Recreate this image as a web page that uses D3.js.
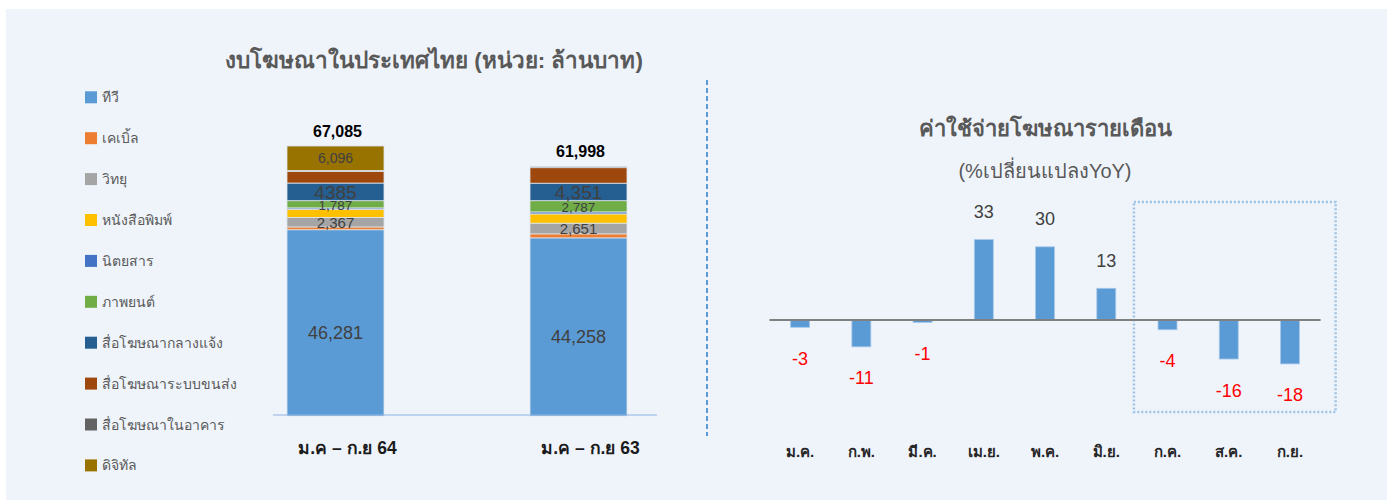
<!DOCTYPE html>
<html lang="th">
<head>
<meta charset="UTF-8">
<title>งบโฆษณาในประเทศไทย</title>
<script src="https://d3js.org/d3.v7.min.js"></script>
<style>
  body { margin: 0; background: #fff; overflow: hidden; }
  svg { display: block; font-family: "Liberation Sans", Arial, "Noto Sans", sans-serif; }
</style>
</head>
<body>
<script>
// ---- data: left chart (million baht) ----
const periods = ["ม.ค – ก.ย 64", "ม.ค – ก.ย 63"];
const media = ["ทีวี", "เคเบิ้ล", "วิทยุ", "หนังสือพิมพ์", "นิตยสาร", "ภาพยนต์",
               "สื่อโฆษณากลางแจ้ง", "สื่อโฆษณาระบบขนส่ง", "สื่อโฆษณาในอาคาร", "ดิจิทัล"];
const spend64 = [46281, 690, 2367, 2040, 330, 1787, 4385, 2860, 250, 6096];
const spend63 = [44258, 1001, 2651, 2300, 500, 2787, 4351, 3850, 300, 0];
const totals = [67085, 61998];
const labels64 = ["46,281", null, "2,367", null, null, "1,787", "4385", null, null, "6,096"];
const labels63 = ["44,258", null, "2,651", null, null, "2,787", "4,351", null, null, null];

// ---- data: right chart (% YoY) ----
const months = ["ม.ค.", "ก.พ.", "มี.ค.", "เม.ย.", "พ.ค.", "มิ.ย.", "ก.ค.", "ส.ค.", "ก.ย."];
const yoy = [-3, -11, -1, 33, 30, 13, -4, -16, -18];

const colors = ["#5b9bd5", "#ed7d31", "#a5a5a5", "#ffc000", "#4472c4", "#70ad47",
                "#255e91", "#9e480e", "#636363", "#997300"];
const labelSize = [18, 0, 15, 0, 0, 13.5, 19, 0, 0, 14];
const labelShift = [10, 0, 0, 0, 0, 1, 0, 0, 0, 0];

const W = 1392, H = 500;
const svg = d3.select("body").append("svg").attr("width", W).attr("height", H);

svg.append("rect").attr("x", 6).attr("y", 9).attr("width", 1381).attr("height", 491)
  .attr("fill", "#eff4fb");

// ---------- left: stacked bars ----------
svg.append("text").attr("x", 434).attr("y", 68).attr("text-anchor", "middle")
  .attr("font-size", 22.5).attr("font-weight", "bold").attr("fill", "#595959")
  .text("งบโฆษณาในประเทศไทย (หน่วย: ล้านบาท)");

const rows = periods.map((p, i) => {
  const o = { period: p };
  const vals = i === 0 ? spend64 : spend63;
  media.forEach((m, j) => o[m] = vals[j]);
  return o;
});
const stack = d3.stack().keys(media)(rows);

const xL = d3.scalePoint().domain(periods).range([335.5, 578.5]);
const yL = d3.scaleLinear().domain([0, d3.max(totals)]).range([416, 146]);
const barW = 97;

const layer = svg.append("g").selectAll("g").data(stack).join("g")
  .attr("fill", (d, i) => colors[i]);

layer.selectAll("rect").data(d => d).join("rect")
  .attr("x", d => xL(d.data.period) - barW / 2)
  .attr("width", barW)
  .attr("y", d => yL(d[1]))
  .attr("height", d => yL(d[0]) - yL(d[1]))
  .attr("stroke", "#dfe5ec").attr("stroke-width", 0.8);

stack.forEach((s, i) => {
  s.forEach((d, k) => {
    const txt = (k === 0 ? labels64 : labels63)[i];
    if (!txt) return;
    svg.append("text")
      .attr("x", xL(d.data.period))
      .attr("y", (yL(d[0]) + yL(d[1])) / 2 + labelShift[i])
      .attr("dy", "0.36em")
      .attr("text-anchor", "middle")
      .attr("font-size", labelSize[i])
      .attr("fill", "#404040")
      .text(txt);
  });
});

svg.append("line").attr("x1", 273).attr("x2", 657).attr("y1", 415).attr("y2", 415)
  .attr("stroke", "#8db3e2").attr("stroke-width", 1.2);

svg.append("g").selectAll("text").data(periods).join("text")
  .attr("x", d => xL(d) + 12).attr("y", 454).attr("text-anchor", "middle")
  .attr("font-size", 17.5).attr("font-weight", "bold").attr("fill", "#1a1a1a")
  .text(d => d);

svg.append("g").selectAll("text").data(totals).join("text")
  .attr("x", (d, i) => xL(periods[i]) + 2).attr("y", (d, i) => yL(d) - 9)
  .attr("text-anchor", "middle")
  .attr("font-size", 16).attr("font-weight", "bold").attr("fill", "#000")
  .text(d => d3.format(",")(d));

// legend
const leg = svg.append("g").selectAll("g").data(media).join("g")
  .attr("transform", (d, i) => `translate(85,${97.3 + i * 40.9})`);
leg.append("rect").attr("x", 0).attr("y", -6).attr("width", 12).attr("height", 12)
  .attr("fill", (d, i) => colors[i]);
leg.append("text").attr("x", 17).attr("y", 5).attr("font-size", 14)
  .attr("fill", "#595959").text(d => d);

// divider
svg.append("line").attr("x1", 707).attr("x2", 707).attr("y1", 80).attr("y2", 436)
  .attr("stroke", "#5b9bd5").attr("stroke-width", 2).attr("stroke-dasharray", "5,3");

// ---------- right: monthly YoY ----------
svg.append("text").attr("x", 1045).attr("y", 136).attr("text-anchor", "middle")
  .attr("font-size", 22).attr("font-weight", "bold").attr("fill", "#595959")
  .text("ค่าใช้จ่ายโฆษณารายเดือน");
svg.append("text").attr("x", 1045).attr("y", 178).attr("text-anchor", "middle")
  .attr("font-size", 20).attr("fill", "#595959")
  .text("(%เปลี่ยนแปลงYoY)");

const xR = d3.scaleBand().domain(months).range([769.5, 1320.6]).paddingInner(0.69).paddingOuter(0.345);
const yR = d3.scaleLinear().domain([-40, 40]).range([320 + 97.6, 320 - 97.6]);

// highlight box around last quarter
const step = xR.step();
const boxL = xR("ก.ค.") + xR.bandwidth() / 2 - step / 2 - 3;
const boxR = xR("ก.ย.") + xR.bandwidth() / 2 + step / 2 + 15;
svg.append("rect")
  .attr("x", boxL).attr("y", 202)
  .attr("width", boxR - boxL).attr("height", 210)
  .attr("fill", "none").attr("stroke", "#9dc3e6").attr("stroke-width", 2.5)
  .attr("stroke-dasharray", "2,2");

svg.append("g").selectAll("rect").data(yoy).join("rect")
  .attr("x", (d, i) => xR(months[i]))
  .attr("width", xR.bandwidth())
  .attr("y", d => yR(Math.max(0, d)))
  .attr("height", d => Math.abs(yR(d) - yR(0)))
  .attr("fill", "#5b9bd5").attr("stroke", "#a9c9ea").attr("stroke-width", 0.8);

svg.append("line").attr("x1", 769.5).attr("x2", 1320.6).attr("y1", yR(0)).attr("y2", yR(0))
  .attr("stroke", "#808080").attr("stroke-width", 2);

svg.append("g").selectAll("text").data(yoy).join("text")
  .attr("x", (d, i) => xR(months[i]) + xR.bandwidth() / 2)
  .attr("y", d => d >= 0 ? yR(d) - 21.5 : yR(d) + 37.5)
  .attr("text-anchor", "middle")
  .attr("font-size", 18)
  .attr("fill", d => d >= 0 ? "#404040" : "#ff0000")
  .text(d => d);

svg.append("g").selectAll("text").data(months).join("text")
  .attr("x", d => xR(d) + xR.bandwidth() / 2).attr("y", 457)
  .attr("text-anchor", "middle")
  .attr("font-size", 15).attr("font-weight", "bold").attr("fill", "#262626")
  .text(d => d);
</script>
</body>
</html>
